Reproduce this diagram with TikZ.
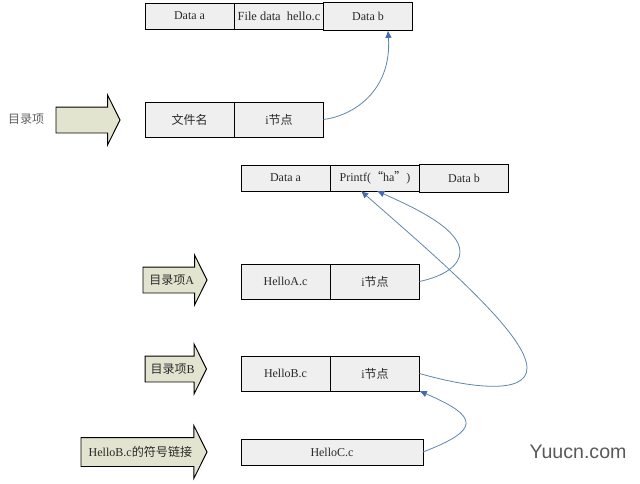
\documentclass[tikz,border=0pt]{standalone}
\usepackage{fontspec}
\setmainfont{Liberation Serif}
\setsansfont{Liberation Sans}
\newfontfamily\cjk{Noto Sans CJK SC}
\usepackage{xcolor}
\usepackage{tikz}
\usetikzlibrary{%
	arrows.meta,%
	shapes.arrows%
}
\definecolor{CellGray}{HTML}{EFEFEF}
\definecolor{DirOlive}{HTML}{E3E4D0}
\definecolor{LinkBlue}{HTML}{5F86AC}
\definecolor{TipBlue}{HTML}{4569B2}
\definecolor{InkGray}{HTML}{2A2A2A}
\tikzset{
	cell/.style={draw,fill=CellGray,line width=0.7pt,inner sep=0pt,outer sep=0pt,anchor=west,text=InkGray,font=\fontsize{9}{11}\selectfont,minimum width=66.75pt,minimum height=19.5pt},
	tall/.style={minimum height=26.25pt},
	dirarrow/.style={single arrow,draw,fill=DirOlive,line width=0.7pt,inner sep=0pt,outer sep=0pt,anchor=tip,text=InkGray,font=\fontsize{9}{11}\selectfont,text height=12.5pt,text depth=6.25pt,single arrow head extend=9pt,single arrow tip angle=127},
	link/.style={LinkBlue,line width=0.6pt,-{Latex[length=5.5pt,width=5pt,color=TipBlue]}}
}
\begin{document}
\begin{tikzpicture}[x=0.75pt,y=-0.75pt]
\useasboundingbox (0,0) rectangle (640,483);
% First file data
\node (dataA) at (145,16) [cell] {Data a};
\node (fileData) at (234.5,16) [cell] {\fontsize{9.3}{11}\selectfont File data\ \ hello.c};
\node (dataB) at (323.5,16.5) [cell,minimum height=21pt] {Data b};
% Directory entry
\node (entryLabel) at (26,119) [text=InkGray!75,font=\fontsize{9}{11}\selectfont\cjk] {目录项};
\node (entryArrow) at (120,120) [dirarrow,minimum height=48pt] {};
\node (fileName) at (145,119.5) [cell,tall,font=\fontsize{9}{11}\selectfont\cjk] {文件名};
\node (inode) at (234.5,119.5) [cell,tall] {i{\cjk 节点}};
% Shared file data
\node (sharedA) at (241,178) [cell] {Data a};
\node (printf) at (330.5,178) [cell] {Printf({\cjk “}ha{\cjk ”})};
\node (sharedB) at (419.5,178) [cell,minimum height=21pt] {Data b};
% Hard links
\node (arrowA) at (207,280) [dirarrow,minimum height=48pt] {{\cjk 目录项}A};
\node (helloA) at (241,281.5) [cell,tall] {HelloA.c};
\node (inodeA) at (330.5,281.5) [cell,tall] {i{\cjk 节点}};
\node (arrowB) at (206.5,369) [dirarrow,minimum height=46pt] {{\cjk 目录项}B};
\node (helloB) at (241,373.5) [cell,tall] {HelloB.c};
\node (inodeB) at (330.5,373.5) [cell,tall] {i{\cjk 节点}};
% Symbolic link
\node (arrowC) at (207,452) [dirarrow,minimum height=94.5pt,text height=13.5pt,text depth=7.5pt,font=\fontsize{9.05}{11}\selectfont] {HelloB.c{\cjk 的符号链接}};
\node (helloC) at (241,452) [cell,minimum width=136.5pt] {HelloC.c};
% Links
\draw [link] (inode.east) .. controls (352,116) and (392,92) .. ([xshift=15pt]dataB.south);
\draw [link] (inodeA.east) .. controls (445,276) and (460,265) .. (460,252) .. controls (460,230) and (420,210) .. ([xshift=1.5pt]printf.south);
\draw [link] (inodeB.east) .. controls (470,388) and (527,395) .. (527,368) .. controls (527,335) and (440,260) .. ([xshift=-10.5pt]printf.south);
\draw [link] (helloC.east) .. controls (480,430) and (480,417) .. (inodeB.south east);
% Watermark
\node (mark) at (578,452) [text=black!65,font=\fontsize{14.7}{16}\selectfont\sffamily] {Yuucn.com};
\end{tikzpicture}
\end{document}
